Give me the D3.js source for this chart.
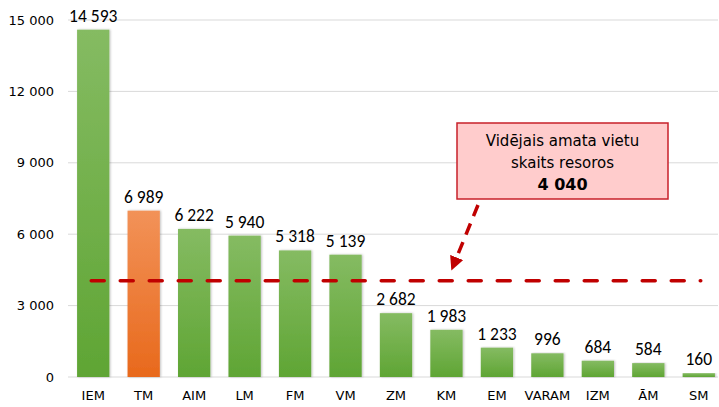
<!DOCTYPE html>
<html>
<head>
<meta charset="utf-8">
<script src="https://cdn.jsdelivr.net/npm/d3@7"></script>
<style>
  body { margin: 0; background: #fff; }
  svg { display: block; }
  .tick text { font-family: Tahoma, "DejaVu Sans", sans-serif; }
</style>
</head>
<body>
<svg width="719" height="407"></svg>
<script>
// data
var categories = ["IEM","TM","AIM","LM","FM","VM","ZM","KM","EM","VARAM","IZM","ĀM","SM"];
var values = [14593, 6989, 6222, 5940, 5318, 5139, 2682, 1983, 1233, 996, 684, 584, 160];
var highlight = ["TM"];
var average = 4040;
var yTicks = [0, 3000, 6000, 9000, 12000, 15000];
var noteLines = ["Vidējais amata vietu", "skaits resoros"];

var margin = {top: 20, right: 0, bottom: 30, left: 68};
var height = 377 - margin.top;

var fmt = function(v){ return d3.format(",")(v).replace(/,/g, " "); };

var svg = d3.select("svg");
var defs = svg.append("defs");

var gGreen = defs.append("linearGradient").attr("id","gGreen").attr("x1",0).attr("y1",0).attr("x2",0).attr("y2",1);
gGreen.append("stop").attr("offset","0%").attr("stop-color","#85bb62");
gGreen.append("stop").attr("offset","100%").attr("stop-color","#5fa534");
var gOrange = defs.append("linearGradient").attr("id","gOrange").attr("x1",0).attr("y1",0).attr("x2",0).attr("y2",1);
gOrange.append("stop").attr("offset","0%").attr("stop-color","#f29258");
gOrange.append("stop").attr("offset","100%").attr("stop-color","#e8691c");

var shadow = defs.append("filter").attr("id","shadow").attr("x","-20%").attr("y","-5%").attr("width","140%").attr("height","110%");
shadow.append("feDropShadow").attr("dx",1).attr("dy",0).attr("stdDeviation",1).attr("flood-color","#000").attr("flood-opacity",0.25);

defs.append("marker").attr("id","arrow")
  .attr("viewBox","0 0 10 10").attr("refX",5).attr("refY",5)
  .attr("markerWidth",4).attr("markerHeight",4).attr("orient","auto")
  .append("path").attr("d","M0,0 L10,5 L0,10 z").attr("fill","#c00000");

var g = svg.append("g").attr("transform","translate(" + margin.left + "," + margin.top + ")");

var x = d3.scaleBand().domain(categories).range([0, 656]).paddingInner(0.36).paddingOuter(0.18);
var y = d3.scaleLinear().domain([0, 15000]).range([height, 0]);

// gridlines
g.append("g")
  .selectAll("line").data(yTicks).enter().append("line")
  .attr("x1", 0).attr("x2", 650)
  .attr("y1", function(d){ return y(d); }).attr("y2", function(d){ return y(d); })
  .attr("stroke", "#d9d9d9").attr("stroke-width", 1);

// y axis
var yAxis = g.append("g").call(d3.axisLeft(y).tickValues(yTicks).tickFormat(fmt).tickSize(0).tickPadding(14));
yAxis.select(".domain").remove();
yAxis.selectAll("text").attr("font-size", 13).attr("fill", "#000");

// x axis
var xAxis = g.append("g").attr("transform","translate(0," + height + ")")
  .call(d3.axisBottom(x).tickSize(0).tickPadding(14));
xAxis.select(".domain").remove();
xAxis.selectAll("text").attr("font-size", 13).attr("fill", "#000");

// bars
g.selectAll(".bar").data(values).enter().append("rect")
  .attr("class","bar")
  .attr("x", function(d,i){ return x(categories[i]); })
  .attr("y", function(d){ return y(d); })
  .attr("width", x.bandwidth())
  .attr("height", function(d){ return height - y(d); })
  .attr("fill", function(d,i){ return highlight.indexOf(categories[i]) >= 0 ? "url(#gOrange)" : "url(#gGreen)"; })
  .attr("filter","url(#shadow)");

// value labels
g.selectAll(".val").data(values).enter().append("text")
  .attr("class","val")
  .attr("x", function(d,i){ return x(categories[i]) + x.bandwidth()/2; })
  .attr("y", function(d){ return y(d) - 8; })
  .attr("text-anchor","middle")
  .attr("font-family","Carlito, 'Liberation Sans', Arial, sans-serif")
  .attr("font-size", 17.5)
  .attr("fill","#000")
  .text(function(d){ return fmt(d); });

// average line
g.append("line")
  .attr("x1", x(categories[0]) + x.bandwidth()/2 - 2)
  .attr("x2", x(categories[categories.length-1]) + x.bandwidth()/2 + 2)
  .attr("y1", y(average)).attr("y2", y(average))
  .attr("stroke","#c00000").attr("stroke-width",3.5)
  .attr("stroke-linecap","round")
  .attr("stroke-dasharray","13 16");

// annotation box
var bx = 389, by = 103, bw = 211, bh = 76;
g.append("rect").attr("x", bx).attr("y", by).attr("width", bw).attr("height", bh)
  .attr("fill","#ffcccc").attr("stroke","#c8202a").attr("stroke-width",1.5);
var note = g.append("text").attr("text-anchor","middle")
  .attr("font-family","Tahoma, 'DejaVu Sans', sans-serif").attr("font-size",15).attr("fill","#000");
noteLines.forEach(function(t, i){
  note.append("tspan").attr("x", bx + bw/2).attr("y", by + 23 + i*22).text(t);
});
note.append("tspan").attr("x", bx + bw/2).attr("y", by + 67).attr("font-weight","bold").attr("font-size",16).text(fmt(average));

// arrow
g.append("line")
  .attr("x1", 410).attr("y1", 185)
  .attr("x2", 386).attr("y2", 244)
  .attr("stroke","#c00000").attr("stroke-width",3.5)
  .attr("stroke-dasharray","12 8")
  .attr("marker-end","url(#arrow)");
</script>
</body>
</html>
